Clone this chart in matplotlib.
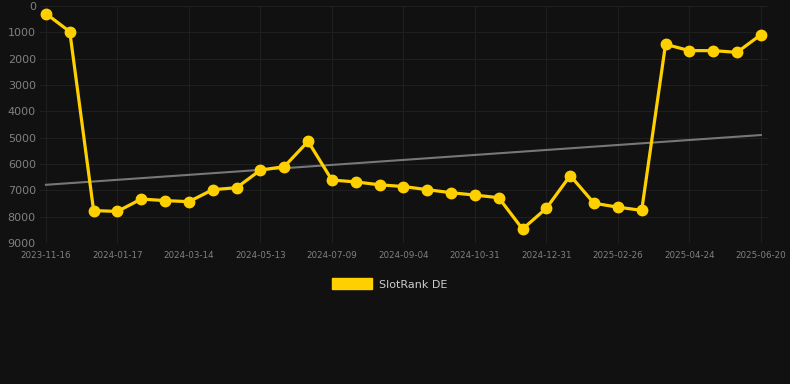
import matplotlib
matplotlib.use("Agg")
import matplotlib.pyplot as plt
import matplotlib.patches as mpatches
import numpy as np

# tick labels (one every 3rd point)
tick_labels = ["2023-11-16", "2024-01-17", "2024-03-14", "2024-05-13", "2024-07-09",
               "2024-09-04", "2024-10-31", "2024-12-31", "2025-02-26", "2025-04-24",
               "2025-06-20"]

# rank values
rank = [290, 975, 7770, 7800, 7330, 7390, 7430, 6975, 6900, 6230, 6100, 5140,
        6610, 6680, 6790, 6855, 6975, 7090, 7180, 7280, 8470, 7680, 6440, 7490,
        7640, 7760, 1455, 1695, 1695, 1760, 1090]

# trend line ends
trend = [6790, 4900]

bg = "#111111"
gold = "#FFD000"

fig = plt.figure(figsize=(7.9, 3.84), dpi=100, facecolor=bg)
ax = fig.add_axes([40 / 790, 1 - 243 / 384, 728 / 790, 237 / 384], facecolor=bg)

x = np.arange(len(rank))
ax.plot([x[0], x[-1]], trend, color="#777777", lw=1.5, zorder=2)
ax.plot(x, rank, color=gold, lw=2.3, marker="o", ms=7.5, zorder=3)

ax.set_xlim(-0.25, 30.3)
ax.set_ylim(9000, 0)
ax.set_yticks(range(0, 9001, 1000))
ax.set_xticks(x[::3])
ax.set_xticklabels(tick_labels)

ax.grid(True, color="#1f1f1f", lw=0.8)
ax.axhline(9000, color="#2a2a2a", lw=0.8, zorder=1)
ax.set_axisbelow(True)
for s in ax.spines.values():
    s.set_visible(False)
ax.tick_params(axis="y", length=0, pad=3, labelsize=8, labelcolor="#808080")
ax.tick_params(axis="x", length=0, pad=6, labelsize=6.3, labelcolor="#808080")

patch = mpatches.Patch(color=gold, label="SlotRank DE")
leg = fig.legend(handles=[patch], loc="center", bbox_to_anchor=(390 / 790, 1 - 284 / 384),
                 frameon=False, fontsize=8, handlelength=3.6, handleheight=1.1,
                 handletextpad=0.6)
for t in leg.get_texts():
    t.set_color("#cccccc")

fig.savefig("out.png", dpi=100, facecolor=bg)
